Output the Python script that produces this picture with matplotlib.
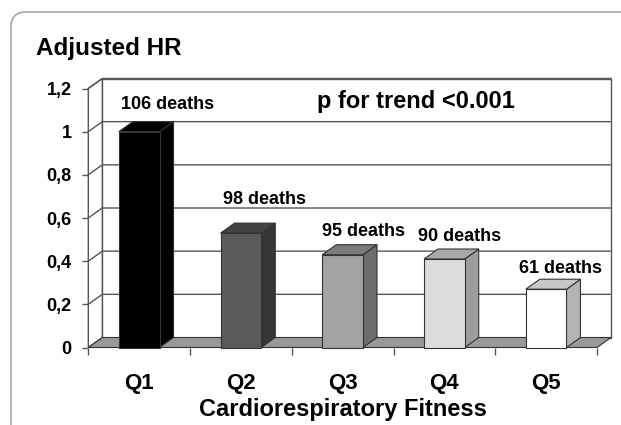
import numpy as np
import matplotlib.pyplot as plt
from matplotlib.patches import Polygon, FancyBboxPatch
from matplotlib.transforms import IdentityTransform

plt.rcParams['font.family'] = ['Liberation Sans', 'DejaVu Sans']
plt.rcParams['font.weight'] = 'bold'
plt.rcParams['axes.labelweight'] = 'bold'

quintiles = ["Q1", "Q2", "Q3", "Q4", "Q5"]
hr = [1.0, 0.53, 0.43, 0.41, 0.27]
deaths = [106, 98, 95, 90, 61]
yticks = [0, 0.2, 0.4, 0.6, 0.8, 1.0, 1.2]

# face / side / top shades of each bar
front_col = ["#000000", "#5a5a5a", "#a3a3a3", "#dcdcdc", "#ffffff"]
side_col = ["#000000", "#363636", "#6d6d6d", "#9d9d9d", "#b3b3b3"]
top_col = ["#000000", "#424242", "#7a7a7a", "#a8a8a8", "#c8c8c8"]
edge = "#333333"
grid = "#555555"

# where each "n deaths" label sits relative to its bar (pixels)
label_off = [(2, 23), (2, 29), (0, 19), (-6, 18), (-7, 16)]

fig = plt.figure(figsize=(6.21, 4.25), dpi=100)
ax = fig.add_axes([88.3 / 621, 77.5 / 425, 508.7 / 621, 259 / 425])
ax.set_xlim(0, 5)
ax.set_ylim(0, 1.2)
for s in ax.spines.values():
    s.set_visible(False)

# depth of the fake 3d: 14 px right, 10 px up, in data units
dx, dy = ax.transData.inverted().transform(ax.transData.transform((0, 0)) + np.array([14, 10]))
top = yticks[-1]
n = len(quintiles)

# walls
ax.add_patch(Polygon([(dx, dy), (n + dx, dy), (n + dx, top + dy), (dx, top + dy)],
                     closed=True, fc="white", ec=grid, lw=1, clip_on=False, zorder=1))
ax.add_patch(Polygon([(0, 0), (dx, dy), (dx, top + dy), (0, top)],
                     closed=True, fc="white", ec=grid, lw=1, clip_on=False, zorder=1))
for y in yticks[1:]:
    ax.plot([0, dx, n + dx], [y, y + dy, y + dy], color=grid, lw=1, clip_on=False, zorder=1.5)

# floor
ax.add_patch(Polygon([(0, 0), (n, 0), (n + dx, dy), (dx, dy)],
                     closed=True, fc="#999999", ec=edge, lw=0.8, clip_on=False, zorder=2))

x = np.arange(n) + 0.5
bars = ax.bar(x, hr, width=0.4, color=front_col, edgecolor=edge, lw=0.8, zorder=4, clip_on=False)

for i, b in enumerate(bars):
    x0 = b.get_x()
    x1 = x0 + b.get_width()
    h = b.get_height()
    ax.add_patch(Polygon([(x1, 0), (x1 + dx, dy), (x1 + dx, h + dy), (x1, h)],
                         closed=True, fc=side_col[i], ec=edge, lw=0.8, clip_on=False, zorder=3))
    ax.add_patch(Polygon([(x0, h), (x1, h), (x1 + dx, h + dy), (x0 + dx, h + dy)],
                         closed=True, fc=top_col[i], ec=edge, lw=0.8, clip_on=False, zorder=3))
    ax.annotate(f"{deaths[i]} deaths", xy=(x0, h), xytext=label_off[i],
                textcoords="offset pixels", ha="left", va="baseline", fontsize=13, zorder=5)

ax.set_yticks(yticks)
ax.set_yticklabels([f"{v:g}".replace(".", ",") for v in yticks], fontsize=13)
ax.tick_params(axis="y", length=4, width=1, color=grid, pad=8)

ax.set_xticks(np.arange(n + 1))
ax.set_xticklabels([])
ax.tick_params(axis="x", which="major", length=5, width=1, color=grid)
ax.set_xticks(x, minor=True)
ax.set_xticklabels(quintiles, minor=True, fontsize=16)
ax.tick_params(axis="x", which="minor", length=0, pad=18)

ax.set_xlabel("Cardiorespiratory Fitness", fontsize=17, fontweight="bold", labelpad=3)

fig.text(36 / 621, 1 - 55 / 425, "Adjusted HR", fontsize=17.5, va="baseline")
fig.text(317 / 621, 1 - 108 / 425, "p for trend <0.001", fontsize=17, va="baseline")

# rounded panel border running off the right and bottom edge
fig.add_artist(FancyBboxPatch((11, -40), 700, 425 - 12 + 40,
                              boxstyle="round,pad=0,rounding_size=15",
                              transform=IdentityTransform(), fc="none", ec="#a0a0a0", lw=1.1))

fig.savefig("out.png", dpi=100)
